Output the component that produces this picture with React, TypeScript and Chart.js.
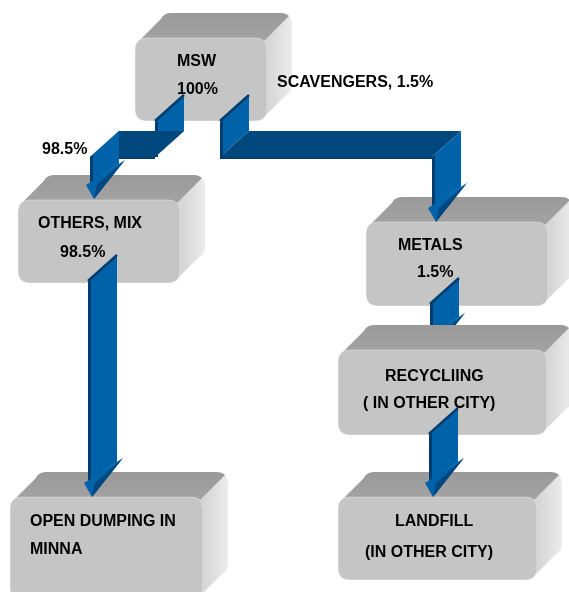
import React, { useEffect, useRef } from "react";
import { Chart, registerables } from "chart.js";
Chart.register(...registerables);

// ---- data (diagram units: 0..569 horizontally, 0..592 vertically) ----
const nodeLines: string[][] = [
  ["MSW", "100%"],
  ["OTHERS, MIX", "98.5%"],
  ["METALS", "1.5%"],
  ["RECYCLIING", "( IN OTHER CITY)"],
  ["OPEN DUMPING IN", "MINNA"],
  ["LANDFILL", "(IN OTHER CITY)"],
];
const nodeShares = [100, 98.5, 1.5, 1.5, 98.5, 1.5];
const nodeLeft = [135, 18, 366, 338, 10, 338];
const nodeTop = [38, 200, 222, 350, 497, 497];
const nodeRight = [267, 180, 548, 547, 203, 537];
const nodeBottom = [121, 283, 306, 435, 600, 580];
const lineX: number[][] = [[177, 177], [38, 60], [398, 417], [385, 363], [30, 30], [395, 365]];
const lineY: number[][] = [[62, 90], [224, 253], [246, 273], [377, 404], [522, 550], [522, 553]];

const flowFrom = [0, 0, 1, 2, 3];
const flowTo = [1, 2, 4, 3, 5];
const flowShare = [98.5, 1.5, 98.5, 1.5, 1.5];
const flowPaths: number[][][] = [
  [[155, 122], [155, 157], [90, 157], [90, 199]],
  [[220, 122], [220, 157], [432, 157], [432, 222]],
  [[88, 282], [88, 497]],
  [[430, 305], [430, 352]],
  [[429, 435], [429, 497]],
];
const flowUnderTarget = [false, false, false, true, false];

const sideLabels = ["SCAVENGERS, 1.5%", "98.5%"];
const sideLabelX = [277, 42];
const sideLabelY = [83, 150];

const FONT = "bold 16px 'Liberation Sans', Arial, sans-serif";
const BLUE = "#0062a9";
const NAVY = "#00477e";
const EDGE = "#003d6e";

function roundRect(ctx: CanvasRenderingContext2D, x0: number, y0: number, x1: number, y1: number, r: number) {
  ctx.beginPath();
  ctx.moveTo(x0 + r, y0);
  ctx.lineTo(x1 - r, y0);
  ctx.quadraticCurveTo(x1, y0, x1, y0 + r);
  ctx.lineTo(x1, y1 - r);
  ctx.quadraticCurveTo(x1, y1, x1 - r, y1);
  ctx.lineTo(x0 + r, y1);
  ctx.quadraticCurveTo(x0, y1, x0, y1 - r);
  ctx.lineTo(x0, y0 + r);
  ctx.quadraticCurveTo(x0, y0, x0 + r, y0);
  ctx.closePath();
}

function poly(ctx: CanvasRenderingContext2D, pts: number[][], fill: string) {
  ctx.beginPath();
  ctx.moveTo(pts[0][0], pts[0][1]);
  for (let i = 1; i < pts.length; i++) ctx.lineTo(pts[i][0], pts[i][1]);
  ctx.closePath();
  ctx.fillStyle = fill;
  ctx.fill();
}

const diagramPlugin = {
  id: "flowDiagram",
  afterDatasetsDraw(chart: any) {
    const ctx: CanvasRenderingContext2D = chart.ctx;
    const xs = chart.scales.x;
    const ys = chart.scales.y;
    const px = (v: number) => xs.getPixelForValue(v);
    const py = (v: number) => ys.getPixelForValue(v);
    const dvx = px(25) - px(0);
    const dvy = py(-25) - py(0);
    const rvx = px(29) - px(0);
    const rvy = py(-26) - py(0);

    const drawBox = (i: number) => {
      const x0 = px(nodeLeft[i]), x1 = px(nodeRight[i]);
      const y0 = py(nodeTop[i]), y1 = py(nodeBottom[i]);
      const r = 12;
      const k = 0.293 * r;
      const ptl = [x0 + k, y0 + k];
      const pbr = [x1 - k, y1 - k];
      const extrude = () => {
        roundRect(ctx, x0 + dvx, y0 + dvy, x1 + dvx, y1 + dvy, r);
        ctx.fill();
        poly(ctx, [ptl, [ptl[0] + dvx, ptl[1] + dvy], [pbr[0] + dvx, pbr[1] + dvy], pbr], ctx.fillStyle as string);
      };
      // right side
      const gs = ctx.createLinearGradient(x1, 0, x1 + dvx, 0);
      gs.addColorStop(0, "#d4d4d4");
      gs.addColorStop(1, "#ececec");
      ctx.save();
      ctx.fillStyle = gs;
      roundRect(ctx, x0 + dvx, y0 + dvy, x1 + dvx, y1 + dvy, r);
      ctx.fill();
      ctx.beginPath();
      ctx.moveTo(ptl[0], ptl[1]);
      ctx.lineTo(ptl[0] + dvx, ptl[1] + dvy);
      ctx.lineTo(pbr[0] + dvx, pbr[1] + dvy);
      ctx.lineTo(pbr[0], pbr[1]);
      ctx.closePath();
      ctx.fill();
      ctx.restore();
      // top face (clip to the part left of the top-right corner line)
      const q = [x1 - k, y0 + k];
      ctx.save();
      ctx.beginPath();
      ctx.moveTo(q[0] - dvx * 10, q[1] - dvy * 10);
      ctx.lineTo(q[0] + dvx * 10, q[1] + dvy * 10);
      ctx.lineTo(q[0] + dvx * 10 - 2000, q[1] + dvy * 10 - 2000);
      ctx.lineTo(q[0] - dvx * 10 - 2000, q[1] - dvy * 10 - 2000);
      ctx.closePath();
      ctx.clip();
      const gt = ctx.createLinearGradient(0, y0, 0, y0 + dvy);
      gt.addColorStop(0, "#a2a2a2");
      gt.addColorStop(1, "#9a9a9a");
      ctx.fillStyle = gt;
      roundRect(ctx, x0 + dvx, y0 + dvy, x1 + dvx, y1 + dvy, r);
      ctx.fill();
      ctx.beginPath();
      ctx.moveTo(ptl[0], ptl[1]);
      ctx.lineTo(ptl[0] + dvx, ptl[1] + dvy);
      ctx.lineTo(pbr[0] + dvx, pbr[1] + dvy);
      ctx.lineTo(pbr[0], pbr[1]);
      ctx.closePath();
      ctx.fill();
      ctx.restore();
      void extrude;
      // front face
      ctx.fillStyle = "#c5c5c5";
      roundRect(ctx, x0, y0, x1, y1, r);
      ctx.fill();
      ctx.strokeStyle = "rgba(255,255,255,0.35)";
      ctx.lineWidth = 1;
      ctx.stroke();
    };

    const drawFlow = (f: number) => {
      const pts = flowPaths[f].map((p) => [px(p[0]), py(p[1])]);
      for (let s = 0; s < pts.length - 1; s++) {
        const a = pts[s], b = pts[s + 1];
        const last = s === pts.length - 2;
        if (Math.abs(a[1] - b[1]) < 0.5) {
          // horizontal run
          const lo = Math.min(a[0], b[0]), hi = Math.max(a[0], b[0]);
          poly(ctx, [[lo, a[1]], [lo + rvx, a[1] + rvy], [hi + rvx, a[1] + rvy], [hi, a[1]]], NAVY);
          poly(ctx, [[lo, a[1]], [hi, a[1]], [hi, a[1] + 2], [lo, a[1] + 2]], EDGE);
        } else {
          const x = a[0];
          const yt = b[1];
          if (last) {
            poly(ctx, [[x, a[1]], [x + rvx, a[1] + rvy], [x + rvx, yt - 35], [x, yt - 16]], BLUE);
          } else {
            poly(ctx, [[x, a[1]], [x + rvx, a[1] + rvy], [x + rvx, yt + rvy], [x, yt]], BLUE);
          }
          // left edge
          poly(ctx, [[x, a[1]], [x + 3, a[1] - 2], [x + 3, last ? yt - 18 : yt], [x, last ? yt - 16 : yt]], EDGE);
          if (s === 0) {
            // top thickness
            ctx.strokeStyle = EDGE;
            ctx.lineWidth = 2.5;
            ctx.beginPath();
            ctx.moveTo(x, a[1] - 1);
            ctx.lineTo(x + rvx, a[1] + rvy - 1);
            ctx.stroke();
          }
          if (last) {
            const L = [x - 4, yt - 14], R = [x + 35, yt - 39], T = [x + 4, yt];
            poly(ctx, [L, R, T], BLUE);
            poly(ctx, [R, T, [x + 7, yt - 14]], NAVY);
          }
        }
      }
    };

    ctx.save();
    const order = [0, 1, 2, 3, 4, 5];
    const drawnFlows = new Set<number>();
    for (const i of order) {
      // flows drawn beneath their target box
      flowTo.forEach((t, f) => {
        if (t === i && flowUnderTarget[f]) {
          drawFlow(f);
          drawnFlows.add(f);
        }
      });
      drawBox(i);
    }
    flowFrom.forEach((_, f) => {
      if (!drawnFlows.has(f)) drawFlow(f);
    });

    ctx.fillStyle = "#000";
    ctx.font = FONT;
    ctx.textAlign = "left";
    ctx.textBaseline = "middle";
    nodeLines.forEach((lines, i) => {
      lines.forEach((t, j) => ctx.fillText(t, px(lineX[i][j]), py(lineY[i][j])));
    });
    sideLabels.forEach((t, i) => ctx.fillText(t, px(sideLabelX[i]), py(sideLabelY[i])));
    ctx.restore();
  },
};

export default function App() {
  const ref = useRef<HTMLCanvasElement | null>(null);
  useEffect(() => {
    document.body.style.margin = "0";
    if (!ref.current) return;
    const centers = nodeLeft.map((l, i) => ({
      x: (l + nodeRight[i]) / 2,
      y: (nodeTop[i] + nodeBottom[i]) / 2,
      share: nodeShares[i],
    }));
    const chart = new Chart(ref.current, {
      type: "scatter",
      data: {
        datasets: [
          {
            label: "nodes",
            data: centers,
            pointRadius: 0,
            pointHoverRadius: 0,
          },
        ],
      },
      options: {
        responsive: false,
        animation: false,
        layout: { padding: 0 },
        scales: {
          x: { type: "linear", min: 0, max: 569, display: false },
          y: { type: "linear", min: 0, max: 592, reverse: true, display: false },
        },
        plugins: { legend: { display: false }, tooltip: { enabled: false } },
        events: [],
      },
      plugins: [diagramPlugin],
    });
    return () => chart.destroy();
  }, []);
  return (
    <div style={{ width: 569, height: 592, background: "#fff" }}>
      <canvas ref={ref} width={569} height={592} style={{ display: "block" }} />
    </div>
  );
}
